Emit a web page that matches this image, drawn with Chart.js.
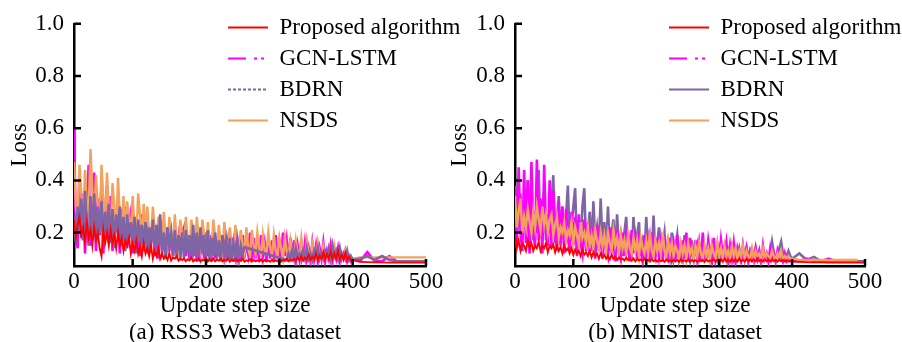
<!DOCTYPE html>
<html>
<head>
<meta charset="utf-8">
<script src="https://cdn.jsdelivr.net/npm/chart.js@4.4.1/dist/chart.umd.min.js"></script>
<style>
html, body { margin: 0; padding: 0; background: #fff; overflow: hidden; }
#wrap { position: relative; width: 902px; height: 342px; overflow: hidden; }
canvas { position: absolute; top: 0; }
#rss { left: 0; }
#mnist { left: 440px; }
</style>
</head>
<body>
<div id="wrap">
  <canvas id="rss" width="470" height="342"></canvas>
  <canvas id="mnist" width="470" height="342"></canvas>
</div>
<script>
// update steps (x) shared by every series
var steps = [20,22.5,25,27.5,30,32.5,35,37.5,40,42.5,45,47.5,50,52.5,55,57.5,60,62.5,65,67.5,
  70,72.5,75,77.5,80,82.5,85,87.5,90,92.5,95,97.5,100,102.5,105,107.5,110,112.5,115,117.5,
  120,122.5,125,127.5,130,132.5,135,137.5,140,142.5,145,147.5,150,152.5,155,157.5,160,162.5,165,167.5,
  170,172.5,175,177.5,180,182.5,185,187.5,190,192.5,195,197.5,200,202.5,205,207.5,210,212.5,215,217.5,
  220,222.5,225,227.5,230,232.5,235,237.5,240,242.5,245,247.5,250,252.5,255,257.5,260,262.5,265,267.5,
  270,272.5,275,277.5,280,282.5,285,287.5,290,292.5,295,297.5,300,302.5,305,307.5,310,312.5,315,317.5,
  320,322.5,325,327.5,330,332.5,335,337.5,340,342.5,345,347.5,350,352.5,355,357.5,360,362.5,365,367.5,
  370,372.5,375,377.5,380,382.5,385,387.5,390,392.5,395,397.5,400,
  410,420,430,440,450,460,470,480,490,500];

var seriesNames = ['Proposed algorithm', 'GCN-LSTM', 'BDRN', 'NSDS'];

// (a) RSS3 Web3 dataset
var rssProposed = [0.25,0.18,0.23,0.26,0.19,0.22,0.16,0.24,0.18,0.21,0.15,0.22,0.17,0.2,0.14,0.11,0.21,0.16,0.2,0.15,
  0.21,0.16,0.19,0.14,0.2,0.15,0.18,0.13,0.17,0.15,0.18,0.12,0.16,0.13,0.17,0.12,0.15,0.11,0.16,0.12,
  0.14,0.11,0.15,0.1,0.13,0.11,0.14,0.1,0.12,0.1,0.11,0.095,0.12,0.093,0.105,0.1,0.11,0.092,0.1,0.095,
  0.1,0.09,0.098,0.093,0.104,0.09,0.097,0.092,0.1,0.089,0.096,0.093,0.102,0.09,0.098,0.091,0.1,0.09,0.097,0.092,
  0.1,0.09,0.096,0.092,0.101,0.089,0.097,0.091,0.099,0.09,0.095,0.092,0.1,0.089,0.094,0.091,0.098,0.089,0.095,0.09,
  0.094,0.089,0.097,0.088,0.095,0.09,0.093,0.088,0.096,0.089,0.094,0.09,0.098,0.089,0.095,0.091,0.1,0.09,0.097,0.092,
  0.1,0.092,0.105,0.094,0.11,0.093,0.104,0.096,0.115,0.095,0.108,0.097,0.12,0.096,0.112,0.1,0.125,0.098,0.118,0.1,
  0.128,0.099,0.12,0.1,0.13,0.098,0.115,0.097,0.122,0.095,0.108,0.093,0.095,
  0.088,0.087,0.086,0.086,0.085,0.085,0.085,0.085,0.085,0.085];
var rssGcn = [0.6,0.2,0.14,0.42,0.18,0.35,0.12,0.3,0.46,0.15,0.25,0.43,0.13,0.33,0.19,0.4,0.12,0.28,0.38,0.16,
  0.34,0.13,0.27,0.2,0.33,0.12,0.29,0.17,0.3,0.14,0.24,0.28,0.12,0.26,0.15,0.23,0.11,0.27,0.14,0.22,
  0.25,0.13,0.2,0.24,0.12,0.22,0.1,0.25,0.14,0.19,0.1,0.22,0.13,0.2,0.11,0.21,0.12,0.18,0.1,0.2,
  0.22,0.11,0.18,0.1,0.2,0.13,0.19,0.09,0.21,0.12,0.17,0.1,0.2,0.11,0.19,0.09,0.21,0.1,0.18,0.11,
  0.19,0.09,0.2,0.12,0.17,0.1,0.18,0.09,0.2,0.11,0.16,0.09,0.19,0.1,0.17,0.12,0.2,0.09,0.18,0.1,
  0.17,0.09,0.19,0.11,0.16,0.09,0.18,0.1,0.17,0.09,0.19,0.1,0.16,0.09,0.2,0.11,0.17,0.09,0.18,0.1,
  0.17,0.09,0.15,0.1,0.17,0.09,0.16,0.1,0.14,0.09,0.16,0.1,0.15,0.09,0.14,0.1,0.16,0.09,0.13,0.1,
  0.15,0.09,0.13,0.1,0.14,0.09,0.12,0.1,0.13,0.09,0.11,0.09,0.1,
  0.09,0.125,0.09,0.09,0.11,0.09,null,null,null,null];
var rssBdrn = [0.26,0.16,0.3,0.2,0.33,0.17,0.36,0.22,0.15,0.34,0.19,0.35,0.16,0.3,0.2,0.32,0.15,0.28,0.18,0.31,
  0.16,0.29,0.14,0.27,0.2,0.3,0.15,0.26,0.13,0.27,0.18,0.24,0.14,0.26,0.12,0.25,0.17,0.23,0.13,0.24,
  0.12,0.22,0.16,0.25,0.11,0.23,0.14,0.27,0.12,0.2,0.1,0.22,0.15,0.2,0.11,0.21,0.1,0.19,0.13,0.2,
  0.1,0.21,0.12,0.19,0.1,0.23,0.11,0.2,0.09,0.22,0.12,0.19,0.1,0.21,0.09,0.18,0.11,0.2,0.1,0.17,
  0.09,0.19,0.11,0.17,0.1,0.18,0.09,0.16,0.11,0.17,0.1,0.15,0.12,0.144,null,null,null,null,null,null,
  null,null,null,null,null,null,null,null,null,null,null,null,null,null,null,null,0.095,0.12,0.1,0.13,
  0.1,0.14,0.11,0.12,0.095,0.13,0.1,0.14,0.1,0.12,0.095,0.13,0.11,0.14,0.1,0.12,0.1,0.13,0.11,0.14,
  0.1,0.15,0.11,0.13,0.1,0.14,0.1,0.12,0.1,0.13,0.095,0.11,0.095,
  0.1,0.11,0.095,0.11,0.095,0.09,0.09,0.09,0.09,0.09];
var rssNsds = [0.47,0.3,0.24,0.46,0.35,0.22,0.44,0.3,0.28,0.52,0.36,0.25,0.42,0.3,0.2,0.46,0.33,0.24,0.43,0.28,
  0.2,0.39,0.3,0.2,0.41,0.26,0.22,0.34,0.2,0.32,0.25,0.19,0.34,0.22,0.18,0.35,0.27,0.18,0.31,0.2,
  0.3,0.2,0.17,0.3,0.22,0.15,0.26,0.2,0.15,0.28,0.18,0.14,0.26,0.2,0.15,0.27,0.17,0.13,0.25,0.19,
  0.14,0.26,0.18,0.13,0.25,0.2,0.14,0.26,0.17,0.13,0.25,0.19,0.12,0.24,0.16,0.13,0.25,0.18,0.12,0.23,
  0.16,0.12,0.24,0.17,0.11,0.22,0.15,0.12,0.23,0.16,0.11,0.21,0.15,0.12,0.22,0.14,0.11,0.21,0.15,0.12,
  0.2,0.14,0.11,0.19,0.13,0.12,0.2,0.14,0.11,0.19,0.13,0.11,0.18,0.14,0.1,0.18,0.13,0.11,0.17,0.12,
  0.1,0.17,0.12,0.11,0.18,0.12,0.1,0.17,0.12,0.1,0.16,0.12,0.1,0.16,0.11,0.1,0.15,0.12,0.1,0.14,
  0.11,0.1,0.15,0.11,0.1,0.13,0.11,0.1,0.13,0.1,0.11,0.1,0.1,
  0.105,0.105,0.105,0.105,0.105,0.105,0.105,0.105,0.105,0.105];

// (b) MNIST dataset
var mnistProposed = [0.2,0.14,0.17,0.13,0.16,0.15,0.13,0.17,0.14,0.16,0.13,0.15,0.14,0.165,0.13,0.15,0.14,0.16,0.125,0.15,
  0.14,0.155,0.125,0.15,0.13,0.145,0.12,0.15,0.13,0.14,0.12,0.14,0.115,0.135,0.12,0.13,0.11,0.135,0.115,0.125,
  0.11,0.13,0.105,0.125,0.11,0.12,0.1,0.12,0.105,0.115,0.1,0.11,0.097,0.115,0.1,0.108,0.095,0.105,0.098,0.1,
  0.093,0.104,0.095,0.1,0.092,0.101,0.09,0.099,0.093,0.097,0.09,0.1,0.091,0.096,0.089,0.098,0.09,0.095,0.089,0.097,
  0.09,0.095,0.088,0.097,0.09,0.094,0.088,0.096,0.089,0.095,0.088,0.097,0.09,0.094,0.089,0.096,0.088,0.095,0.089,0.094,
  0.088,0.096,0.09,0.095,0.088,0.097,0.089,0.094,0.09,0.098,0.089,0.095,0.09,0.097,0.089,0.1,0.09,0.096,0.089,0.098,
  0.09,0.097,0.089,0.1,0.09,0.096,0.089,0.099,0.09,0.097,0.089,0.098,0.09,0.1,0.09,0.096,0.089,0.098,0.09,0.097,
  0.089,0.098,0.09,0.096,0.089,0.097,0.09,0.095,0.089,0.094,0.089,0.092,0.09,
  0.088,0.087,0.086,0.086,0.085,0.085,0.085,0.085,0.085,0.085];
var mnistGcn = [0.38,0.14,0.45,0.2,0.13,0.44,0.16,0.4,0.12,0.47,0.22,0.14,0.48,0.17,0.33,0.12,0.46,0.2,0.15,0.4,
  0.14,0.36,0.2,0.13,0.32,0.16,0.3,0.12,0.29,0.18,0.13,0.28,0.15,0.26,0.11,0.27,0.16,0.12,0.25,0.13,
  0.24,0.12,0.22,0.16,0.1,0.23,0.13,0.21,0.1,0.2,0.14,0.11,0.22,0.12,0.19,0.09,0.21,0.13,0.1,0.2,
  0.11,0.19,0.14,0.09,0.21,0.12,0.18,0.1,0.2,0.13,0.09,0.19,0.11,0.17,0.09,0.2,0.12,0.1,0.18,0.11,
  0.17,0.09,0.19,0.12,0.1,0.18,0.11,0.16,0.09,0.19,0.12,0.1,0.17,0.1,0.2,0.09,0.18,0.12,0.1,0.17,
  0.1,0.16,0.09,0.2,0.11,0.1,0.17,0.12,0.09,0.18,0.1,0.15,0.09,0.17,0.11,0.1,0.16,0.09,0.15,0.1,
  0.16,0.09,0.14,0.11,0.09,0.15,0.1,0.14,0.09,0.13,0.11,0.09,0.14,0.1,0.13,0.09,0.15,0.1,0.12,0.09,
  0.14,0.1,0.12,0.09,0.13,0.1,0.11,0.09,0.12,0.09,0.1,0.09,0.09,
  0.09,0.1,0.09,0.09,0.1,0.09,null,null,null,null];
var mnistBdrn = [0.37,0.2,0.26,0.35,0.18,0.3,0.22,0.4,0.19,0.34,0.17,0.28,0.2,0.44,0.18,0.3,0.36,0.17,0.27,0.2,
  0.3,0.42,0.16,0.25,0.34,0.15,0.3,0.18,0.26,0.38,0.16,0.22,0.3,0.37,0.14,0.25,0.17,0.3,0.37,0.15,
  0.2,0.28,0.13,0.32,0.17,0.22,0.14,0.33,0.15,0.24,0.12,0.3,0.13,0.2,0.25,0.12,0.27,0.14,0.19,0.11,
  0.2,0.26,0.12,0.17,0.1,0.26,0.13,0.19,0.24,0.11,0.16,0.1,0.26,0.12,0.18,0.1,0.265,0.11,0.16,0.22,
  0.1,0.15,0.2,0.1,0.16,0.11,0.2,0.1,0.14,0.19,0.1,0.13,0.1,0.19,0.11,0.15,0.1,0.17,0.1,0.14,
  0.16,0.1,0.13,0.15,0.1,0.12,0.14,0.1,0.15,0.11,0.13,0.1,0.14,0.1,0.12,0.15,0.1,0.13,0.1,0.14,
  0.1,0.13,0.11,0.14,0.1,0.12,0.1,0.14,0.11,0.13,0.1,0.12,0.14,0.1,0.12,0.1,0.13,0.11,0.12,0.1,
  0.12,0.165,0.12,0.1,0.12,0.14,0.165,0.12,0.1,0.11,0.13,0.11,0.1,
  0.12,0.095,0.107,0.09,0.09,0.09,0.09,0.09,0.09,0.09];
var mnistNsds = [0.34,0.22,0.28,0.33,0.2,0.26,0.22,0.29,0.24,0.2,0.28,0.22,0.3,0.25,0.21,0.3,0.23,0.27,0.2,0.25,
  0.27,0.19,0.23,0.26,0.18,0.22,0.2,0.24,0.17,0.21,0.19,0.24,0.16,0.22,0.19,0.15,0.24,0.18,0.2,0.16,
  0.22,0.15,0.19,0.14,0.21,0.17,0.14,0.2,0.15,0.19,0.13,0.2,0.16,0.13,0.21,0.15,0.18,0.12,0.19,0.14,
  0.17,0.12,0.19,0.14,0.12,0.18,0.13,0.17,0.11,0.18,0.14,0.12,0.17,0.12,0.2,0.13,0.11,0.17,0.13,0.16,
  0.12,0.2,0.13,0.11,0.17,0.12,0.16,0.11,0.15,0.13,0.1,0.16,0.12,0.15,0.1,0.16,0.12,0.14,0.1,0.15,
  0.11,0.16,0.12,0.1,0.15,0.11,0.14,0.1,0.15,0.12,0.1,0.16,0.11,0.14,0.1,0.15,0.11,0.13,0.1,0.15,
  0.11,0.14,0.1,0.13,0.11,0.15,0.1,0.13,0.11,0.1,0.14,0.1,0.13,0.11,0.12,0.1,0.14,0.1,0.12,0.11,
  0.1,0.13,0.11,0.1,0.12,0.1,0.13,0.1,0.11,0.1,0.11,0.1,0.1,
  0.095,0.095,0.095,0.095,0.095,0.095,0.095,0.095,0.095,null];

var xTickValues = [20, 100, 200, 300, 400, 500];
var xTickLabels = ['0', '100', '200', '300', '400', '500'];
var yTickValues = [0.2, 0.4, 0.6, 0.8, 1.0];

// styles
var colors = ['#ff0000', '#ff00ff', '#7f65a6', '#f4a15d'];
var widths = [1.9, 2.6, 2.6, 2.4];

Chart.defaults.font.family = "'Liberation Serif', 'Times New Roman', serif";
Chart.defaults.font.size = 23;
Chart.defaults.color = '#000';

// tick marks pointing into the plot
var innerTicks = {
	id: 'innerTicks',
	afterDatasetsDraw: function(chart) {
		var ctx = chart.ctx, x = chart.scales.x, y = chart.scales.y;
		ctx.save();
		ctx.strokeStyle = '#000';
		ctx.lineWidth = 2.5;
		ctx.beginPath();
		x.ticks.forEach(function(t) {
			if (t.value === x.min) return;
			var px = x.getPixelForValue(t.value);
			ctx.moveTo(px, y.bottom);
			ctx.lineTo(px, y.bottom - 7);
		});
		y.ticks.forEach(function(t) {
			var py = y.getPixelForValue(t.value);
			ctx.moveTo(x.left, py);
			ctx.lineTo(x.left + 7, py);
		});
		ctx.stroke();
		ctx.restore();
	}
};

// move the legend to the upper right part of the plot
var legendSpot = {
	id: 'legendSpot',
	afterLayout: function(chart) {
		var lg = chart.legend, a = chart.chartArea;
		lg.left = a.left + 146;
		lg.right = chart.width;
		lg.top = 8;
		lg.bottom = a.bottom;
		lg.width = lg.right - lg.left;
		lg.height = lg.bottom - lg.top;
	}
};

function makeChart(id, caption, values, opt) {
	var datasets = seriesNames.map(function(name, i) {
		return {
			label: name,
			data: steps.map(function(s, k) { return {x: s, y: values[i][k]}; }),
			borderColor: colors[i],
			backgroundColor: colors[i],
			borderWidth: widths[i],
			pointRadius: 0,
			tension: 0,
			spanGaps: true,
			fill: false,
			order: opt.order[i]
		};
	});
	return new Chart(document.getElementById(id), {
		type: 'line',
		data: { datasets: datasets },
		options: {
			responsive: false,
			animation: false,
			layout: { padding: { top: 19, left: 0, right: 0, bottom: 0 } },
			scales: {
				x: {
					type: 'linear', min: 20, max: 500,
					afterBuildTicks: function(s) { s.ticks = xTickValues.map(function(v) { return {value: v}; }); },
					afterFit: function(s) { s.height = 28; },
					grid: { display: false, drawTicks: false },
					border: { display: true, color: '#000', width: 2.5 },
					ticks: { autoSkip: false, maxRotation: 0, padding: 2,
						callback: function(v, i) { return xTickLabels[i]; } }
				},
				y: {
					type: 'linear', min: 0.072, max: 1.0,
					afterBuildTicks: function(s) { s.ticks = yTickValues.map(function(v) { return {value: v}; }); },
					afterFit: function(s) { s.width = opt.yWidth; },
					grid: { display: false, drawTicks: false },
					border: { display: true, color: '#000', width: 2.5 },
					ticks: { padding: 10, callback: function(v) { return v.toFixed(1); } },
					title: { display: true, text: 'Loss', font: { size: 23, lineHeight: 1 }, padding: { top: 8, bottom: 0 } }
				},
				pad: {
					type: 'linear', position: 'right', display: true,
					grid: { display: false, drawTicks: false },
					border: { display: false },
					ticks: { display: false },
					afterFit: function(s) { s.width = opt.rightPad; }
				}
			},
			plugins: {
				legend: {
					position: 'chartArea',
					align: 'start',
					labels: {
						usePointStyle: true,
						pointStyleWidth: 40,
						padding: 8,
						font: { size: 23 },
						generateLabels: function(chart) {
							return chart.data.datasets.map(function(d, i) {
								return { text: d.label, fillStyle: d.borderColor, strokeStyle: d.borderColor,
									lineWidth: 2, lineDash: opt.legendDash[i], pointStyle: 'line',
									fontColor: '#000', hidden: false, datasetIndex: i };
							});
						}
					}
				},
				subtitle: {
					display: true, position: 'bottom', text: 'Update step size', color: '#000',
					font: { size: 23, weight: 'normal', lineHeight: 1 }, padding: { top: 0, bottom: 4 }
				},
				title: {
					display: true, position: 'bottom', text: caption, color: '#000',
					font: { size: 23, weight: 'normal', lineHeight: 1 }, padding: { top: 0, bottom: -2 }
				},
				tooltip: { enabled: false }
			}
		},
		plugins: [innerTicks, legendSpot]
	});
}

window.charts = {};
window.charts.rss = makeChart('rss', '(a) RSS3 Web3 dataset',
	[rssProposed, rssGcn, rssBdrn, rssNsds],
	{ yWidth: 74, rightPad: 44, order: [0, 3, 1, 2],
	  legendDash: [[], [18, 8, 3, 4, 3, 4], [3, 2], []] });
window.charts.mnist = makeChart('mnist', '(b) MNIST dataset',
	[mnistProposed, mnistGcn, mnistBdrn, mnistNsds],
	{ yWidth: 75, rightPad: 45, order: [0, 2, 3, 1],
	  legendDash: [[], [18, 8, 3, 4, 3, 4], [], []] });
</script>
</body>
</html>
